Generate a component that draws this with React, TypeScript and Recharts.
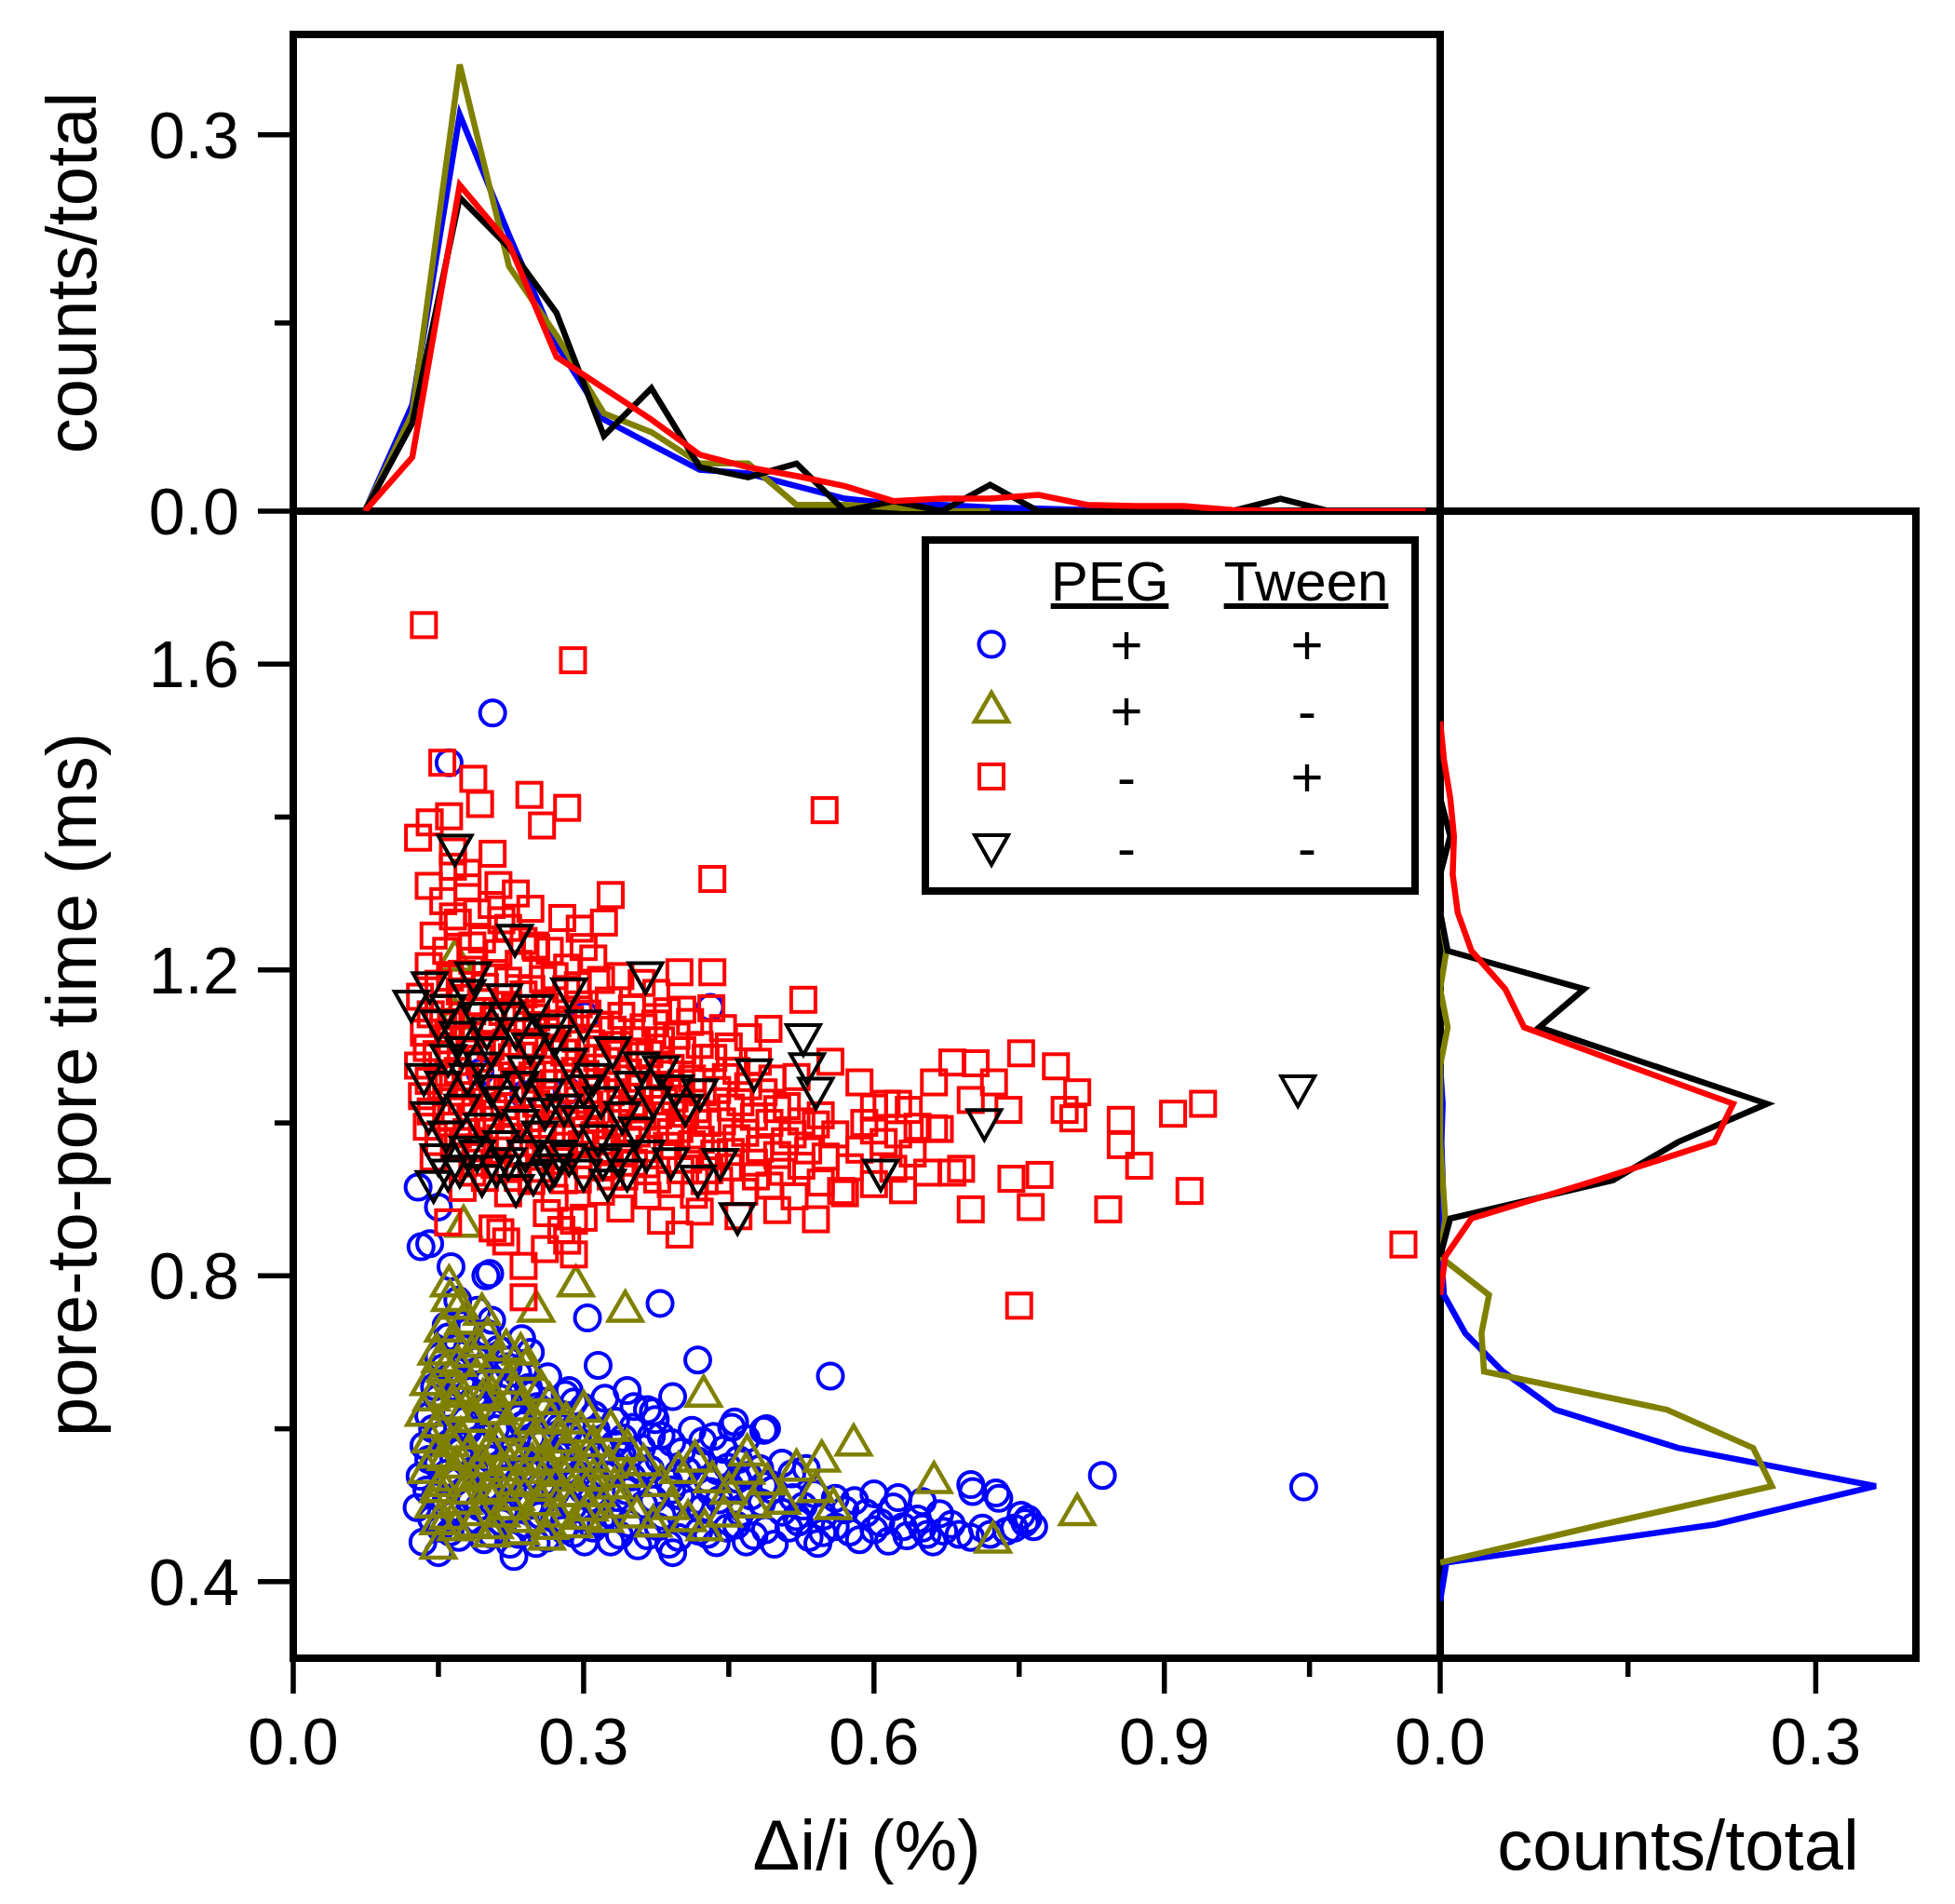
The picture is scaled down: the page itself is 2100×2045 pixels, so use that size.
import React from 'react';
import { ScatterChart, Scatter, XAxis, YAxis, ReferenceLine } from 'recharts';

// page + panel layout (px)
const W = 2100;
const H = 2045;
const PL = 315; // main plot left
const PR = 1547; // main plot right / right panel left
const PT = 549; // main plot top / top panel bottom
const PB = 1781; // main plot bottom
const TT = 37; // top panel top
const RR = 2058; // right panel right

const FONT = '"Liberation Sans", Arial, Helvetica, sans-serif';
const BLUE = '#0000ff';
const OLIVE = '#808000';
const RED = '#ff0000';
const BLACK = '#000000';
const AXIS_W = 8;
const HIST_W = 6.5;

// ---- scatter data: [Δi/i (%), pore-to-pore time (ms)] ----

// PEG +, Tween +
const circlePts: [number, number][] = [
  [0.206, 1.536], [0.161, 1.471], [0.431, 1.151], [0.302, 1.140], [0.193, 1.066], [0.238, 1.037], [0.283, 1.042],
  [0.129, 0.916], [0.150, 0.890], [0.132, 0.838], [0.141, 0.842], [0.199, 0.800], [0.163, 0.812], [0.379, 0.764],
  [0.418, 0.690], [0.555, 0.669], [0.836, 0.539], [1.044, 0.524], [0.203, 0.803], [0.304, 0.745],
  [0.700, 0.527], [0.726, 0.516], [0.752, 0.487], [0.759, 0.482], [0.688, 0.462], [0.672, 0.466], [0.650, 0.470],
  [0.489, 0.600], [0.456, 0.609], [0.366, 0.625], [0.392, 0.642], [0.315, 0.683], [0.345, 0.650], [0.372, 0.622],
  [0.228, 0.433], [0.392, 0.438], [0.150, 0.438],
  [0.560, 0.509], [0.547, 0.464], [0.580, 0.506], [0.607, 0.477], [0.634, 0.460], [0.661, 0.452], [0.702, 0.518],
  [0.729, 0.509], [0.756, 0.477], [0.520, 0.485], [0.486, 0.526], [0.459, 0.534], [0.486, 0.598], [0.453, 0.602],
  [0.592, 0.490], [0.620, 0.498], [0.645, 0.482], [0.668, 0.489], [0.615, 0.453], [0.575, 0.465], [0.712, 0.470], [0.737, 0.466],
  [0.134, 0.452], [0.152, 0.470], [0.171, 0.458], [0.188, 0.481], [0.205, 0.462], [0.224, 0.449], [0.241, 0.475],
  [0.262, 0.457], [0.279, 0.468], [0.301, 0.452], [0.318, 0.479], [0.337, 0.461], [0.356, 0.447], [0.377, 0.472],
  [0.398, 0.458], [0.419, 0.466], [0.437, 0.451], [0.458, 0.474], [0.476, 0.460], [0.497, 0.449], [0.512, 0.470], [0.533, 0.458],
  [0.128, 0.497], [0.147, 0.512], [0.166, 0.489], [0.183, 0.505], [0.199, 0.523], [0.218, 0.494], [0.236, 0.510],
  [0.255, 0.487], [0.271, 0.516], [0.289, 0.498], [0.308, 0.508], [0.326, 0.489], [0.344, 0.519], [0.362, 0.501],
  [0.381, 0.486], [0.400, 0.512], [0.421, 0.495], [0.440, 0.507], [0.462, 0.490], [0.484, 0.503], [0.505, 0.491],
  [0.527, 0.499], [0.548, 0.486], [0.570, 0.494],
  [0.131, 0.538], [0.149, 0.553], [0.168, 0.531], [0.186, 0.546], [0.203, 0.561], [0.221, 0.535], [0.240, 0.549],
  [0.257, 0.528], [0.276, 0.556], [0.294, 0.540], [0.313, 0.533], [0.331, 0.552], [0.350, 0.537], [0.369, 0.547],
  [0.388, 0.530], [0.407, 0.545], [0.428, 0.534], [0.449, 0.550], [0.470, 0.539], [0.492, 0.528], [0.515, 0.541],
  [0.135, 0.578], [0.153, 0.592], [0.172, 0.570], [0.190, 0.585], [0.209, 0.600], [0.228, 0.574], [0.246, 0.589],
  [0.265, 0.567], [0.284, 0.596], [0.303, 0.579], [0.322, 0.571], [0.341, 0.588], [0.360, 0.575], [0.380, 0.591],
  [0.401, 0.570], [0.423, 0.584], [0.445, 0.573], [0.468, 0.587],
  [0.140, 0.617], [0.158, 0.632], [0.177, 0.611], [0.195, 0.626], [0.214, 0.640], [0.233, 0.614], [0.252, 0.629],
  [0.271, 0.609], [0.290, 0.635], [0.311, 0.618], [0.333, 0.610], [0.352, 0.629], [0.374, 0.612],
  [0.146, 0.655], [0.164, 0.671], [0.183, 0.650], [0.202, 0.664], [0.222, 0.681], [0.243, 0.654], [0.263, 0.668], [0.285, 0.650],
  [0.150, 0.694], [0.170, 0.710], [0.190, 0.690], [0.212, 0.704], [0.236, 0.718], [0.158, 0.735], [0.181, 0.728],
  [0.205, 0.742], [0.170, 0.768], [0.190, 0.755],
  [0.143, 0.482], [0.162, 0.465], [0.180, 0.472], [0.197, 0.455], [0.215, 0.478], [0.233, 0.462], [0.251, 0.450],
  [0.270, 0.482], [0.290, 0.463], [0.310, 0.470], [0.328, 0.452], [0.347, 0.476], [0.366, 0.460], [0.388, 0.449],
  [0.408, 0.478], [0.428, 0.462], [0.448, 0.470], [0.468, 0.452], [0.488, 0.468], [0.522, 0.478], [0.542, 0.450],
  [0.560, 0.472], [0.585, 0.455], [0.600, 0.468], [0.630, 0.472], [0.655, 0.462], [0.680, 0.475], [0.700, 0.458],
  [0.720, 0.462], [0.745, 0.470], [0.765, 0.472],
  [0.138, 0.520], [0.157, 0.502], [0.175, 0.518], [0.192, 0.498], [0.209, 0.512], [0.227, 0.525], [0.245, 0.500],
  [0.263, 0.522], [0.281, 0.505], [0.299, 0.520], [0.317, 0.498], [0.335, 0.510], [0.353, 0.525], [0.372, 0.508],
  [0.391, 0.520], [0.411, 0.503], [0.431, 0.518], [0.451, 0.525], [0.473, 0.512], [0.495, 0.520], [0.516, 0.510],
  [0.538, 0.515], [0.600, 0.515], [0.625, 0.510], [0.650, 0.505],
  [0.140, 0.560], [0.159, 0.542], [0.177, 0.558], [0.195, 0.540], [0.212, 0.552], [0.231, 0.565], [0.249, 0.540],
  [0.267, 0.562], [0.285, 0.545], [0.303, 0.558], [0.322, 0.540], [0.340, 0.565], [0.359, 0.548], [0.378, 0.560],
  [0.398, 0.542], [0.418, 0.558], [0.438, 0.545], [0.460, 0.560], [0.482, 0.548], [0.505, 0.555], [0.530, 0.548],
  [0.144, 0.600], [0.162, 0.582], [0.181, 0.598], [0.199, 0.580], [0.218, 0.592], [0.237, 0.605], [0.256, 0.580],
  [0.275, 0.602], [0.294, 0.585], [0.313, 0.598], [0.332, 0.580], [0.351, 0.602], [0.370, 0.590], [0.391, 0.582],
  [0.412, 0.598], [0.434, 0.590],
  [0.149, 0.640], [0.168, 0.622], [0.186, 0.638], [0.205, 0.620], [0.224, 0.632], [0.243, 0.645], [0.262, 0.622],
  [0.281, 0.645], [0.300, 0.628], [0.322, 0.640],
  [0.155, 0.680], [0.174, 0.662], [0.193, 0.678], [0.212, 0.660], [0.232, 0.672], [0.160, 0.720], [0.180, 0.705],
  [0.200, 0.725], [0.222, 0.690], [0.245, 0.700],
];

// PEG +, Tween -
const trianglePts: [number, number][] = [
  [0.135, 0.620], [0.150, 0.605], [0.165, 0.628], [0.142, 0.585], [0.158, 0.562], [0.173, 0.590], [0.188, 0.612],
  [0.203, 0.575], [0.219, 0.600], [0.234, 0.627], [0.250, 0.588], [0.266, 0.612], [0.282, 0.575], [0.297, 0.598],
  [0.138, 0.545], [0.153, 0.528], [0.169, 0.552], [0.184, 0.535], [0.199, 0.518], [0.215, 0.548], [0.231, 0.530],
  [0.247, 0.556], [0.262, 0.522], [0.278, 0.541], [0.294, 0.515], [0.310, 0.536], [0.326, 0.552],
  [0.145, 0.500], [0.160, 0.485], [0.176, 0.505], [0.192, 0.490], [0.208, 0.473], [0.225, 0.498], [0.241, 0.481],
  [0.257, 0.503], [0.273, 0.488], [0.290, 0.474], [0.306, 0.496], [0.322, 0.481], [0.338, 0.500], [0.355, 0.487],
  [0.372, 0.475], [0.390, 0.498], [0.408, 0.482], [0.425, 0.470],
  [0.140, 0.660], [0.157, 0.677], [0.172, 0.650], [0.189, 0.668], [0.205, 0.645], [0.222, 0.662], [0.240, 0.680],
  [0.256, 0.652], [0.148, 0.700], [0.166, 0.716], [0.184, 0.697], [0.201, 0.721], [0.220, 0.705], [0.176, 0.740],
  [0.195, 0.752], [0.162, 0.770],
  [0.345, 0.540], [0.362, 0.555], [0.380, 0.528], [0.398, 0.545], [0.415, 0.560], [0.433, 0.533], [0.450, 0.518],
  [0.468, 0.544], [0.490, 0.530], [0.505, 0.505], [0.520, 0.548], [0.540, 0.520], [0.558, 0.498], [0.475, 0.500],
  [0.445, 0.488], [0.310, 0.580], [0.328, 0.600], [0.345, 0.575],
  [0.292, 0.789], [0.343, 0.756], [0.424, 0.645], [0.251, 0.756], [0.161, 0.789], [0.176, 0.867], [0.167, 1.215],
  [0.167, 1.139], [0.579, 0.581], [0.546, 0.560], [0.662, 0.532], [0.810, 0.490], [0.723, 0.454], [0.150, 0.446],
  [0.469, 0.568], [0.205, 0.462], [0.262, 0.458],
  [0.143, 0.640], [0.160, 0.645], [0.178, 0.625], [0.196, 0.640], [0.213, 0.622], [0.230, 0.648], [0.248, 0.610],
  [0.265, 0.635], [0.282, 0.610], [0.300, 0.625],
  [0.147, 0.565], [0.163, 0.580], [0.180, 0.565], [0.196, 0.555], [0.212, 0.578], [0.228, 0.562], [0.244, 0.575],
  [0.260, 0.560], [0.276, 0.585], [0.292, 0.560], [0.308, 0.560],
  [0.150, 0.520], [0.166, 0.535], [0.182, 0.518], [0.198, 0.540], [0.214, 0.522], [0.230, 0.510], [0.246, 0.528],
  [0.262, 0.545], [0.278, 0.515], [0.296, 0.535], [0.314, 0.515], [0.332, 0.525],
  [0.150, 0.478], [0.168, 0.470], [0.186, 0.475], [0.215, 0.488], [0.235, 0.465], [0.265, 0.472], [0.300, 0.485],
  [0.152, 0.690], [0.170, 0.685], [0.190, 0.710], [0.210, 0.690], [0.235, 0.700], [0.155, 0.730], [0.172, 0.760],
];

// PEG -, Tween +
const squarePts: [number, number][] = [
  [0.140, 1.205], [0.162, 1.190], [0.185, 1.212], [0.208, 1.196], [0.233, 1.208], [0.258, 1.188], [0.283, 1.203], [0.310, 1.215], [0.338, 1.192],
  [0.131, 1.165], [0.150, 1.150], [0.172, 1.172], [0.194, 1.158], [0.216, 1.145], [0.238, 1.168], [0.260, 1.152],
  [0.282, 1.175], [0.304, 1.143], [0.326, 1.160], [0.350, 1.150], [0.375, 1.170], [0.402, 1.148],
  [0.135, 1.118], [0.155, 1.132], [0.176, 1.110], [0.198, 1.125], [0.220, 1.105], [0.242, 1.128], [0.264, 1.112],
  [0.286, 1.135], [0.308, 1.104], [0.330, 1.122], [0.352, 1.108], [0.374, 1.130], [0.396, 1.114], [0.420, 1.102], [0.444, 1.124],
  [0.129, 1.075], [0.148, 1.090], [0.170, 1.068], [0.192, 1.084], [0.214, 1.062], [0.236, 1.088], [0.258, 1.070],
  [0.280, 1.092], [0.302, 1.064], [0.324, 1.081], [0.346, 1.066], [0.368, 1.090], [0.390, 1.072], [0.412, 1.058],
  [0.434, 1.085], [0.458, 1.068], [0.480, 1.080],
  [0.133, 1.035], [0.153, 1.048], [0.174, 1.028], [0.196, 1.044], [0.218, 1.022], [0.240, 1.047], [0.262, 1.030],
  [0.284, 1.052], [0.306, 1.024], [0.328, 1.040], [0.350, 1.026], [0.372, 1.050], [0.394, 1.032], [0.416, 1.018],
  [0.438, 1.043], [0.462, 1.027], [0.486, 1.040], [0.510, 1.022],
  [0.138, 0.995], [0.158, 1.008], [0.179, 0.988], [0.201, 1.004], [0.223, 0.982], [0.245, 1.006], [0.267, 0.990],
  [0.289, 1.012], [0.311, 0.984], [0.333, 1.000], [0.355, 0.986], [0.377, 1.010], [0.399, 0.992], [0.421, 0.978],
  [0.443, 1.002], [0.467, 0.987], [0.492, 1.000], [0.516, 0.985], [0.540, 0.998],
  [0.145, 0.955], [0.166, 0.968], [0.188, 0.948], [0.210, 0.964], [0.232, 0.942], [0.254, 0.966], [0.276, 0.950],
  [0.298, 0.972], [0.320, 0.944], [0.342, 0.960], [0.364, 0.946], [0.386, 0.970], [0.408, 0.952], [0.430, 0.938],
  [0.452, 0.962], [0.476, 0.948], [0.500, 0.958], [0.525, 0.944], [0.550, 0.956], [0.575, 0.942],
  [0.175, 0.915], [0.198, 0.928], [0.222, 0.908], [0.246, 0.924], [0.270, 0.902], [0.294, 0.926], [0.318, 0.910],
  [0.342, 0.930], [0.366, 0.905], [0.390, 0.920], [0.414, 0.906], [0.440, 0.925], [0.466, 0.910], [0.492, 0.918],
  [0.518, 0.904], [0.545, 0.922], [0.570, 0.908], [0.600, 0.920], [0.630, 0.912],
  [0.262, 0.882], [0.300, 0.876], [0.338, 0.888], [0.380, 0.872], [0.420, 0.884], [0.460, 0.878], [0.500, 0.886], [0.540, 0.874],
  [0.145, 1.245], [0.170, 1.262], [0.195, 1.240], [0.222, 1.255], [0.250, 1.232], [0.278, 1.268], [0.296, 1.254],
  [0.321, 1.262], [0.155, 1.290], [0.180, 1.308], [0.205, 1.285], [0.230, 1.300], [0.328, 1.298], [0.212, 1.311],
  [0.180, 1.327], [0.206, 1.352], [0.129, 1.373], [0.141, 1.393], [0.161, 1.401], [0.193, 1.417], [0.186, 1.450],
  [0.154, 1.471], [0.244, 1.429], [0.283, 1.412], [0.257, 1.389], [0.251, 1.229], [0.399, 1.197], [0.433, 1.197],
  [0.433, 1.319], [0.549, 1.409], [0.135, 1.651], [0.289, 1.605], [0.165, 1.335],
  [0.527, 1.161], [0.491, 1.123], [0.585, 1.053], [0.613, 1.025], [0.600, 1.020], [0.625, 1.025], [0.662, 1.053],
  [0.681, 1.079], [0.705, 1.078], [0.724, 1.053], [0.752, 1.091], [0.788, 1.074], [0.797, 1.017], [0.806, 1.006],
  [0.739, 1.017], [0.855, 1.004], [0.855, 0.971], [0.874, 0.944], [0.909, 1.012], [0.940, 1.025], [0.926, 0.911],
  [0.842, 0.887], [0.762, 0.890], [0.771, 0.932], [0.742, 0.927], [0.700, 0.887], [0.681, 0.935], [0.690, 0.940],
  [0.662, 0.993], [0.668, 0.992], [0.636, 1.017], [1.147, 0.841], [0.750, 0.761], [0.566, 0.911], [0.560, 0.985],
  [0.585, 0.965], [0.610, 0.975], [0.640, 0.960], [0.655, 0.935], [0.620, 0.940], [0.590, 1.000], [0.545, 1.010],
  [0.520, 1.060], [0.555, 1.080], [0.600, 0.990], [0.625, 0.985], [0.645, 0.995], [0.700, 1.030], [0.810, 1.040],
  [0.399, 0.854], [0.283, 0.846], [0.277, 0.860], [0.290, 0.872], [0.238, 0.813], [0.238, 0.772], [0.206, 0.862],
  [0.214, 0.857], [0.160, 0.870], [0.220, 0.845], [0.290, 0.828], [0.260, 0.835],
  [0.150, 1.182], [0.174, 1.195], [0.198, 1.178], [0.222, 1.186], [0.246, 1.175], [0.270, 1.192], [0.294, 1.180],
  [0.318, 1.187], [0.360, 1.183],
  [0.142, 1.142], [0.163, 1.128], [0.185, 1.146], [0.207, 1.135], [0.229, 1.150], [0.251, 1.138], [0.273, 1.130],
  [0.295, 1.155], [0.317, 1.128], [0.339, 1.140], [0.362, 1.125], [0.386, 1.146], [0.410, 1.132], [0.432, 1.150],
  [0.138, 1.098], [0.160, 1.108], [0.182, 1.092], [0.204, 1.100], [0.226, 1.086], [0.248, 1.104], [0.270, 1.095],
  [0.292, 1.110], [0.314, 1.085], [0.336, 1.102], [0.358, 1.088], [0.380, 1.108], [0.402, 1.095], [0.426, 1.085],
  [0.450, 1.100], [0.470, 1.112],
  [0.140, 1.055], [0.160, 1.065], [0.181, 1.048], [0.203, 1.060], [0.225, 1.044], [0.247, 1.062], [0.269, 1.052],
  [0.291, 1.068], [0.313, 1.043], [0.335, 1.058], [0.357, 1.046], [0.379, 1.064], [0.401, 1.052], [0.423, 1.040],
  [0.447, 1.060], [0.470, 1.048], [0.495, 1.058],
  [0.142, 1.015], [0.163, 1.028], [0.185, 1.008], [0.207, 1.020], [0.229, 1.004], [0.251, 1.025], [0.273, 1.012],
  [0.295, 1.030], [0.317, 1.005], [0.339, 1.018], [0.361, 1.008], [0.383, 1.028], [0.405, 1.012], [0.428, 1.000],
  [0.452, 1.020], [0.476, 1.008], [0.500, 1.018], [0.525, 1.002],
  [0.150, 0.975], [0.170, 0.985], [0.192, 0.968], [0.214, 0.980], [0.236, 0.962], [0.258, 0.984], [0.280, 0.970],
  [0.302, 0.990], [0.324, 0.965], [0.346, 0.978], [0.368, 0.966], [0.390, 0.988], [0.412, 0.972], [0.435, 0.960],
  [0.458, 0.980], [0.482, 0.966], [0.508, 0.976], [0.532, 0.964],
  [0.185, 0.935], [0.208, 0.945], [0.232, 0.928], [0.256, 0.940], [0.280, 0.925], [0.304, 0.945], [0.328, 0.930],
  [0.352, 0.948], [0.376, 0.926], [0.400, 0.938], [0.425, 0.924], [0.450, 0.942], [0.478, 0.930], [0.505, 0.936],
  [0.158, 1.225], [0.185, 1.232], [0.212, 1.222], [0.238, 1.238], [0.265, 1.225], [0.300, 1.230], [0.165, 1.270],
  [0.190, 1.275], [0.215, 1.265], [0.245, 1.280], [0.140, 1.310], [0.165, 1.355],
];

// PEG -, Tween -
const invTrianglePts: [number, number][] = [
  [0.167, 1.360], [0.229, 1.242], [0.364, 1.193], [0.527, 1.112], [0.531, 1.074], [0.540, 1.042], [0.476, 1.066],
  [0.714, 1.001], [1.038, 1.045], [0.607, 0.935], [0.459, 0.878], [0.418, 0.927], [0.441, 0.949], [0.325, 0.922],
  [0.122, 1.156], [0.141, 1.180], [0.186, 1.193], [0.218, 1.164], [0.285, 1.172], [0.300, 1.130],
  [0.150, 1.130], [0.170, 1.115], [0.190, 1.140], [0.160, 1.085], [0.180, 1.060], [0.205, 1.095], [0.230, 1.120],
  [0.250, 1.150], [0.270, 1.110], [0.240, 1.070], [0.262, 1.040], [0.285, 1.080], [0.310, 1.060], [0.330, 1.095],
  [0.350, 1.050], [0.372, 1.030], [0.395, 1.045], [0.405, 1.020], [0.420, 1.040], [0.380, 1.070],
  [0.140, 1.010], [0.158, 0.985], [0.175, 1.020], [0.195, 0.995], [0.215, 0.972], [0.235, 1.000], [0.255, 0.985],
  [0.275, 0.960], [0.295, 1.005], [0.315, 0.980], [0.335, 0.955], [0.355, 0.990], [0.150, 0.955], [0.172, 0.940],
  [0.195, 0.928], [0.222, 0.950], [0.248, 0.930], [0.270, 0.942], [0.300, 0.935], [0.145, 0.920], [0.190, 0.960],
  [0.230, 0.915], [0.260, 1.015], [0.318, 1.030], [0.205, 1.045], [0.135, 1.060],
  [0.160, 1.150], [0.180, 1.170], [0.200, 1.120], [0.220, 1.140], [0.245, 1.100], [0.265, 1.125], [0.155, 1.050],
  [0.175, 1.095], [0.195, 1.075], [0.215, 1.030], [0.235, 1.050], [0.280, 1.020], [0.300, 1.045], [0.340, 1.010],
  [0.360, 1.075], [0.160, 0.935], [0.180, 0.965], [0.210, 0.940], [0.240, 0.960], [0.265, 0.935], [0.285, 0.955],
  [0.320, 0.950], [0.345, 0.935], [0.365, 0.960], [0.390, 0.950],
];

// ---- top histogram: counts/total vs Δi/i ----
const topBins = [0.074, 0.123, 0.172, 0.223, 0.272, 0.321, 0.370, 0.420, 0.470, 0.520, 0.570, 0.620,
  0.670, 0.720, 0.770, 0.820, 0.870, 0.920, 0.970, 1.020, 1.070, 1.120, 1.170];
const topBlue = [0, 0.085, 0.316, 0.220, 0.133, 0.073, 0.053, 0.033, 0.030, 0.020, 0.010, 0.006,
  0.005, 0.003, 0.002, 0.001, 0.001, 0, null, null, null, null, null];
const topOlive = [0, 0.078, 0.356, 0.195, 0.140, 0.078, 0.063, 0.038, 0.038, 0.005, 0.005, 0.003,
  0, 0, null, null, null, null, null, null, null, null, null];
const topRed = [0, 0.043, 0.260, 0.213, 0.123, 0.098, 0.073, 0.045, 0.035, 0.028, 0.020, 0.008,
  0.010, 0.010, 0.013, 0.005, 0.004, 0.004, 0.001, 0, 0, 0, 0];
const topBlack = [0, 0.070, 0.250, 0.210, 0.158, 0.060, 0.098, 0.035, 0.027, 0.038, 0, 0.008,
  0, 0.021, 0, 0, 0, 0, 0, 0.010, 0, 0, null];

// ---- right histogram: counts/total vs pore-to-pore time ----
const rightBins = [0.375, 0.425, 0.475, 0.525, 0.575, 0.625, 0.675, 0.725, 0.775, 0.825, 0.875, 0.925,
  0.975, 1.025, 1.075, 1.125, 1.175, 1.225, 1.275, 1.325, 1.375, 1.425, 1.475, 1.525];
const rightBlue = [0, 0.005, 0.220, 0.348, 0.190, 0.092, 0.050, 0.020, 0.003, 0.001, 0.001, 0.002,
  0.001, 0.002, 0, null, null, null, null, null, null, null, null, null];
const rightOlive = [null, 0, 0.130, 0.265, 0.250, 0.181, 0.035, 0.033, 0.039, 0, 0.004, 0.002,
  0, 0, 0, 0.006, 0, 0.005, 0, null, null, null, null, null];
const rightRed = [null, null, null, null, null, null, null, null, 0, 0.004, 0.025, 0.125,
  0.219, 0.234, 0.150, 0.067, 0.052, 0.025, 0.014, 0.010, 0.011, 0.008, 0.003, 0];
const rightBlack = [null, null, null, null, null, null, null, null, null, 0, 0.008, 0.138,
  0.190, 0.261, 0.170, 0.079, 0.115, 0.006, 0, 0, 0.008, 0, null, null];

const mainXTicks = [0, 0.15, 0.3, 0.45, 0.6, 0.75, 0.9, 1.05];
const mainXMajor = [0, 0.3, 0.6, 0.9];
const mainYTicks = [0.4, 0.6, 0.8, 1.0, 1.2, 1.4, 1.6];
const mainYMajor = [0.4, 0.8, 1.2, 1.6];
const countTicks = [0, 0.15, 0.3];
const countMajor = [0, 0.3];

const legendRows = [
  { symbol: 'circle', peg: '+', tween: '+' },
  { symbol: 'triangle', peg: '+', tween: '-' },
  { symbol: 'square', peg: '-', tween: '+' },
  { symbol: 'invTriangle', peg: '-', tween: '-' },
];

// ---- helpers ----
const toPts = (pts: [number, number][]) => pts.map(([x, y]) => ({ x, y }));
const histX = (bins: number[], counts: (number | null)[]) =>
  bins.map((b, i) => ({ x: b, y: counts[i] })).filter((d) => d.y !== null);
const histY = (bins: number[], counts: (number | null)[]) =>
  bins.map((b, i) => ({ x: counts[i], y: b })).filter((d) => d.x !== null);

const MARK_W = 4;
const CircleMark = ({ cx, cy, s = 1 }: any) =>
  <circle cx={cx} cy={cy} r={13.5 * s} fill="none" stroke={BLUE} strokeWidth={MARK_W} />;
const TriangleMark = ({ cx, cy, s = 1 }: any) =>
  <polygon points={`${cx},${cy - 19 * s} ${cx + 18 * s},${cy + 12 * s} ${cx - 18 * s},${cy + 12 * s}`}
    fill="none" stroke={OLIVE} strokeWidth={MARK_W + 0.5} />;
const SquareMark = ({ cx, cy, s = 1 }: any) =>
  <rect x={cx - 13 * s} y={cy - 13 * s} width={26 * s} height={26 * s} fill="none" stroke={RED} strokeWidth={MARK_W} />;
const InvTriangleMark = ({ cx, cy, s = 1 }: any) =>
  <polygon points={`${cx - 18 * s},${cy - 13 * s} ${cx + 18 * s},${cy - 13 * s} ${cx},${cy + 19 * s}`}
    fill="none" stroke={BLACK} strokeWidth={MARK_W} />;
const NoMark = () => <g />;

const isMajor = (v: number, majors: number[]) => majors.some((m) => Math.abs(m - v) < 1e-6);

const bottomTick = (majors: number[]) => (props: any) => {
  const { x, y, payload } = props;
  const major = isMajor(payload.value, majors);
  return (
    <g>
      <line x1={x} y1={y - 2} x2={x} y2={y + (major ? 38 : 20)} stroke={BLACK} strokeWidth={5.5} />
      {major && (
        <text x={x} y={y + 114} textAnchor="middle" fontSize={70} fontFamily={FONT} fill={BLACK}>
          {payload.value.toFixed(1)}
        </text>
      )}
    </g>
  );
};

const leftTick = (majors: number[]) => (props: any) => {
  const { x, y, payload } = props;
  const major = isMajor(payload.value, majors);
  return (
    <g>
      <line x1={x + 2} y1={y} x2={x - (major ? 38 : 20)} y2={y} stroke={BLACK} strokeWidth={5.5} />
      {major && (
        <text x={x - 58} y={y + 25} textAnchor="end" fontSize={70} fontFamily={FONT} fill={BLACK}>
          {payload.value.toFixed(1)}
        </text>
      )}
    </g>
  );
};

const axisLine = { stroke: BLACK, strokeWidth: AXIS_W, strokeLinecap: 'square' as const };
const frame = { stroke: BLACK, strokeWidth: AXIS_W, strokeLinecap: 'square' as const };
const abs: React.CSSProperties = { position: 'absolute', left: 0, top: 0 };

function MainPanel() {
  return (
    <div style={abs}>
      <ScatterChart width={W} height={H}
        margin={{ top: PT, left: PL - 1, right: W - PR, bottom: H - PB - 1 }}>
        <XAxis type="number" dataKey="x" domain={[0, 1.185]} allowDataOverflow ticks={mainXTicks}
          interval={0} tick={bottomTick(mainXMajor)} tickLine={false} tickSize={0} tickMargin={0}
          axisLine={axisLine} height={1} />
        <YAxis type="number" dataKey="y" domain={[0.3, 1.8]} allowDataOverflow ticks={mainYTicks}
          interval={0} tick={leftTick(mainYMajor)} tickLine={false} tickSize={0} tickMargin={0}
          axisLine={axisLine} width={1} />
        <ReferenceLine x={1.185} {...frame} />
        <ReferenceLine y={1.8} {...frame} />
        <Scatter data={toPts(circlePts)} shape={(p: any) => <CircleMark {...p} />} isAnimationActive={false} />
        <Scatter data={toPts(trianglePts)} shape={(p: any) => <TriangleMark {...p} />} isAnimationActive={false} />
        <Scatter data={toPts(squarePts)} shape={(p: any) => <SquareMark {...p} />} isAnimationActive={false} />
        <Scatter data={toPts(invTrianglePts)} shape={(p: any) => <InvTriangleMark {...p} />} isAnimationActive={false} />
      </ScatterChart>
    </div>
  );
}

function TopPanel() {
  const series = [
    { c: BLUE, d: topBlue }, { c: OLIVE, d: topOlive }, { c: BLACK, d: topBlack }, { c: RED, d: topRed },
  ];
  return (
    <div style={abs}>
      <ScatterChart width={W} height={H}
        margin={{ top: TT, left: PL - 1, right: W - PR, bottom: H - PT - 1 }}>
        <XAxis type="number" dataKey="x" domain={[0, 1.185]} allowDataOverflow tick={false}
          tickLine={false} axisLine={axisLine} height={1} />
        <YAxis type="number" dataKey="y" domain={[0, 0.38]} allowDataOverflow ticks={countTicks}
          interval={0} tick={leftTick(countMajor)} tickLine={false} tickSize={0} tickMargin={0}
          axisLine={axisLine} width={1} />
        <ReferenceLine x={1.185} {...frame} />
        <ReferenceLine y={0.38} {...frame} />
        {series.map((s, i) => (
          <Scatter key={i} data={histX(topBins, s.d)} fill={s.c}
            line={{ stroke: s.c, strokeWidth: HIST_W, strokeLinejoin: 'miter' }}
            lineType="joint" shape={NoMark} isAnimationActive={false} />
        ))}
      </ScatterChart>
    </div>
  );
}

function RightPanel() {
  const series = [
    { c: BLUE, d: rightBlue }, { c: OLIVE, d: rightOlive }, { c: BLACK, d: rightBlack }, { c: RED, d: rightRed },
  ];
  return (
    <div style={abs}>
      <ScatterChart width={W} height={H}
        margin={{ top: PT, left: PR - 1, right: W - RR, bottom: H - PB - 1 }}>
        <XAxis type="number" dataKey="x" domain={[0, 0.38]} allowDataOverflow ticks={countTicks}
          interval={0} tick={bottomTick(countMajor)} tickLine={false} tickSize={0} tickMargin={0}
          axisLine={axisLine} height={1} />
        <YAxis type="number" dataKey="y" domain={[0.3, 1.8]} allowDataOverflow tick={false}
          tickLine={false} axisLine={axisLine} width={1} />
        <ReferenceLine x={0.38} {...frame} />
        <ReferenceLine y={1.8} {...frame} />
        {series.map((s, i) => (
          <Scatter key={i} data={histY(rightBins, s.d)} fill={s.c}
            line={{ stroke: s.c, strokeWidth: HIST_W, strokeLinejoin: 'miter' }}
            lineType="joint" shape={NoMark} isAnimationActive={false} />
        ))}
      </ScatterChart>
    </div>
  );
}

function Overlay() {
  const marks: Record<string, any> = {
    circle: CircleMark, triangle: TriangleMark, square: SquareMark, invTriangle: InvTriangleMark,
  };
  const rowY = [692, 763, 834, 910];
  const txt = { fontFamily: FONT, fill: BLACK };
  return (
    <svg width={W} height={H} style={{ ...abs, pointerEvents: 'none' }}>
      {/* axis titles */}
      <text x={76} y={(PT + PB) / 2} transform={`rotate(-90 76 ${(PT + PB) / 2})`} textAnchor="middle"
        dominantBaseline="central" fontSize={76} {...txt}>pore-to-pore time (ms)</text>
      <text x={76} y={(TT + PT) / 2} transform={`rotate(-90 76 ${(TT + PT) / 2})`} textAnchor="middle"
        dominantBaseline="central" fontSize={76} {...txt}>counts/total</text>
      <text x={(PL + PR) / 2} y={2008} textAnchor="middle" fontSize={76} {...txt}>Δi/i (%)</text>
      <text x={(PR + RR) / 2} y={2008} textAnchor="middle" fontSize={76} {...txt}>counts/total</text>

      {/* legend table */}
      <rect x={994} y={580} width={526} height={377} fill="#fff" stroke={BLACK} strokeWidth={AXIS_W} />
      <text x={1192} y={645} textAnchor="middle" fontSize={60} textDecoration="underline" {...txt}>PEG</text>
      <text x={1403} y={645} textAnchor="middle" fontSize={60} textDecoration="underline" {...txt}>Tween</text>
      {legendRows.map((r, i) => {
        const Mark = marks[r.symbol];
        return (
          <g key={i}>
            <Mark cx={1065} cy={rowY[i]} s={1.0} />
            <text x={1210} y={rowY[i] + 21} textAnchor="middle" fontSize={60} {...txt}>{r.peg}</text>
            <text x={1404} y={rowY[i] + 21} textAnchor="middle" fontSize={60} {...txt}>{r.tween}</text>
          </g>
        );
      })}
    </svg>
  );
}

export default function App() {
  return (
    <div style={{ position: 'absolute', left: 0, top: 0, width: W, height: H, background: '#fff' }}>
      <MainPanel />
      <TopPanel />
      <RightPanel />
      <Overlay />
    </div>
  );
}
